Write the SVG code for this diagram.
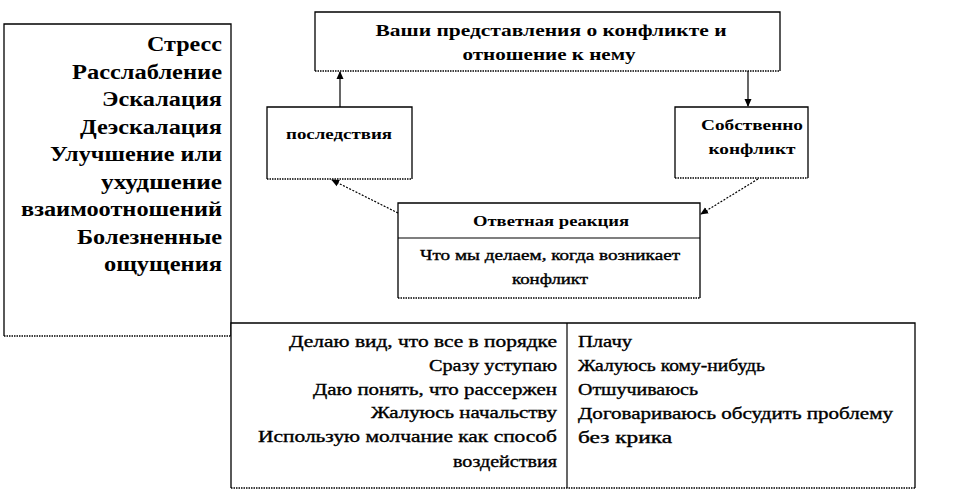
<svg xmlns="http://www.w3.org/2000/svg" width="963" height="495" viewBox="0 0 963 495" font-family="'Liberation Serif', 'Times New Roman', serif">
<style>
.box{fill:#fff;stroke:none}
.ed{fill:none;stroke:#000;stroke-width:1.3}
.eb{fill:none;stroke:#000;stroke-width:1.3;stroke-dasharray:1.5,1}
.t{fill:#000}
.big{font-size:20px;font-weight:bold;text-anchor:end}
.hd{font-size:16px;font-weight:bold;text-anchor:middle}
.md{font-size:14px;font-weight:bold;text-anchor:middle}
.nm{font-size:14px;text-anchor:middle;stroke:#000;stroke-width:0.35}
.tb{font-size:16px;stroke:#000;stroke-width:0.35}
.con{stroke:#000;stroke-width:1.2;fill:none}
.dot{stroke-dasharray:2,1.5}
</style>
<defs>
<marker id="ah" markerWidth="8" markerHeight="8" refX="7" refY="4" orient="auto" markerUnits="userSpaceOnUse">
<path d="M0,0.5 L8,4 L0,7.5 Z" fill="#000"/>
</marker>
</defs>
<rect width="963" height="495" fill="#fff"/>
<g id="effects">
<rect class="box" x="4" y="24" width="227" height="312"/>
<path class="ed" d="M4,336 V24 H231 V336"/>
<path class="eb" d="M4,336 H231"/>
<text class="t big" x="222" y="51" textLength="75" lengthAdjust="spacingAndGlyphs">Стресс</text>
<text class="t big" x="222" y="78.5" textLength="150" lengthAdjust="spacingAndGlyphs">Расслабление</text>
<text class="t big" x="222" y="106" textLength="120" lengthAdjust="spacingAndGlyphs">Эскалация</text>
<text class="t big" x="222" y="133.5" textLength="142" lengthAdjust="spacingAndGlyphs">Деэскалация</text>
<text class="t big" x="222" y="161" textLength="172" lengthAdjust="spacingAndGlyphs">Улучшение или</text>
<text class="t big" x="222" y="188.5" textLength="121" lengthAdjust="spacingAndGlyphs">ухудшение</text>
<text class="t big" x="222" y="216" textLength="201" lengthAdjust="spacingAndGlyphs">взаимоотношений</text>
<text class="t big" x="222" y="243.5" textLength="145" lengthAdjust="spacingAndGlyphs">Болезненные</text>
<text class="t big" x="222" y="271" textLength="118" lengthAdjust="spacingAndGlyphs">ощущения</text>
</g>
<g id="views">
<rect class="box" x="315" y="12" width="465" height="59"/>
<path class="ed" d="M315,71 V12 H780 V71"/>
<path class="eb" d="M315,71 H780"/>
<text class="t hd" x="551" y="36" textLength="351" lengthAdjust="spacingAndGlyphs">Ваши представления о конфликте и</text>
<text class="t hd" x="549" y="60" textLength="173" lengthAdjust="spacingAndGlyphs">отношение к нему</text>
</g>
<g id="consequences">
<rect class="box" x="267" y="107" width="145" height="72"/>
<path class="ed" d="M267,179 V107 H412 V179"/>
<path class="eb" d="M267,179 H412"/>
<text class="t md" x="339" y="139" textLength="106" lengthAdjust="spacingAndGlyphs">последствия</text>
</g>
<g id="conflict">
<rect class="box" x="675" y="107" width="133" height="71"/>
<path class="ed" d="M675,178 V107 H808 V178"/>
<path class="eb" d="M675,178 H808"/>
<text class="t md" x="752" y="130" textLength="102" lengthAdjust="spacingAndGlyphs">Собственно</text>
<text class="t md" x="752" y="154" textLength="87" lengthAdjust="spacingAndGlyphs">конфликт</text>
</g>
<g id="reaction">
<rect class="box" x="398" y="203" width="302" height="95"/>
<path class="ed" d="M398,298 V203 H700 V298"/>
<path class="eb" d="M398,298 H700"/>
<line class="con" x1="398" y1="238" x2="700" y2="238"/>
<text class="t md" x="551" y="226" textLength="156" lengthAdjust="spacingAndGlyphs">Ответная реакция</text>
<text class="t nm" x="550" y="260" textLength="260" lengthAdjust="spacingAndGlyphs">Что мы делаем, когда возникает</text>
<text class="t nm" x="550" y="284" textLength="76" lengthAdjust="spacingAndGlyphs">конфликт</text>
</g>
<g id="responses">
<rect class="box" x="231" y="323" width="684" height="165"/>
<path class="ed" d="M231,488 V323 H915 V488"/>
<path class="eb" d="M231,488 H915"/>
<line class="con" x1="567" y1="323" x2="567" y2="488"/>
<g class="t tb" text-anchor="end">
<text x="557" y="347" textLength="268" lengthAdjust="spacingAndGlyphs">Делаю вид, что все в порядке</text>
<text x="557" y="371" textLength="128" lengthAdjust="spacingAndGlyphs">Сразу  уступаю</text>
<text x="557" y="395" textLength="244" lengthAdjust="spacingAndGlyphs">Даю понять, что рассержен</text>
<text x="557" y="418" textLength="186" lengthAdjust="spacingAndGlyphs">Жалуюсь  начальству</text>
<text x="557" y="442" textLength="299" lengthAdjust="spacingAndGlyphs">Использую  молчание как способ</text>
<text x="557" y="467" textLength="104" lengthAdjust="spacingAndGlyphs">воздействия</text>
</g>
<g class="t tb">
<text x="578" y="347" textLength="54" lengthAdjust="spacingAndGlyphs">Плачу</text>
<text x="578" y="371" textLength="187" lengthAdjust="spacingAndGlyphs">Жалуюсь  кому-нибудь</text>
<text x="578" y="395" textLength="120" lengthAdjust="spacingAndGlyphs">Отшучиваюсь</text>
<text x="578" y="419" textLength="315" lengthAdjust="spacingAndGlyphs">Договариваюсь обсудить  проблему</text>
<text x="578" y="443" textLength="94" lengthAdjust="spacingAndGlyphs">без крика</text>
</g>
</g>
<g id="connectors">
<line class="con" x1="340" y1="107" x2="340" y2="72" marker-end="url(#ah)"/>
<line class="con" x1="748" y1="71" x2="748" y2="106" marker-end="url(#ah)"/>
<line class="con dot" x1="398" y1="213" x2="332" y2="180" marker-end="url(#ah)"/>
<line class="con dot" x1="758" y1="179" x2="701" y2="214" marker-end="url(#ah)"/>
</g>
</svg>
